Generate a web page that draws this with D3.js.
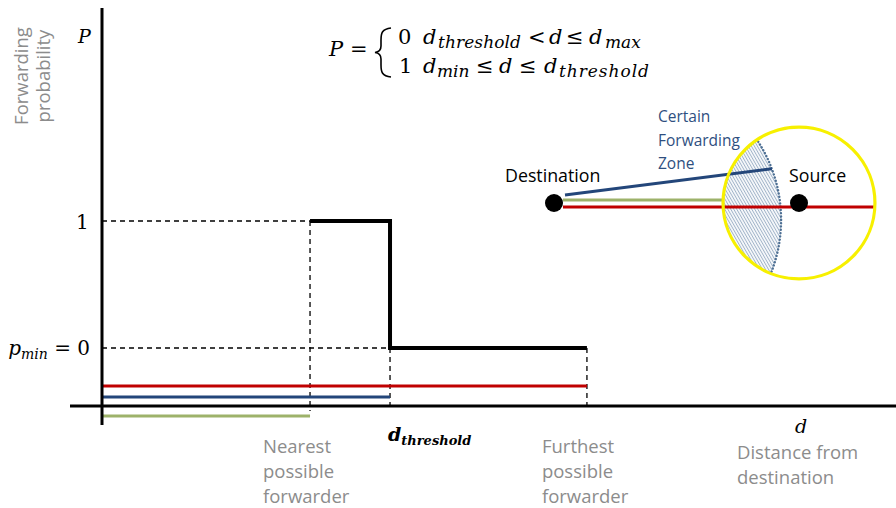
<!DOCTYPE html>
<html>
<head>
<meta charset="utf-8">
<script src="https://cdn.jsdelivr.net/npm/d3@7/dist/d3.min.js"></script>
<style>
  html, body { margin: 0; padding: 0; background: #fff; }
  svg { display: block; }
</style>
</head>
<body>
<svg id="chart" width="896" height="508"></svg>
<script>
// ---------------- data ----------------
// key distances (arbitrary distance units, measured from the destination)
const distanceNames  = ["dMin", "dThreshold", "dMax"];
const distanceValues = [104.8, 145.1, 244.3];
// forwarding probability step function: P(d)
const stepDistances  = [104.8, 145.1, 244.3];
const stepProbability = [1, 0, 0];
// y tick values of the probability axis
const yTickValues = [1, 0];
// range bars below the axis (from the destination to a key distance)
const rangeBarNames = ["furthest", "threshold", "nearest"];
const rangeBarEnds  = [244.3, 145.1, 104.8];
// x-axis annotations
const nearestLabel  = ["Nearest", "possible", "forwarder"];
const furthestLabel = ["Furthest", "possible", "forwarder"];
const axisLabelX    = ["Distance from", "destination"];
const axisLabelY    = ["Forwarding", "probability"];
// inset diagram (units: destination = 0, source = 1)
const nodeNames  = ["Destination", "Source"];
const nodeX      = [0, 1];
const sourceRange = 0.31;
const zoneCenter  = [0.335, 0.069];
const zoneRadius  = 0.592;
const zoneLabel   = ["Certain", "Forwarding", "Zone"];

// ---------------- setup ----------------
const svg = d3.select("#chart");
const W = 896, H = 508;

const x = d3.scaleLinear().domain([0, 400]).range([102, 896]);
const y = d3.scaleLinear().domain([-0.4567, 2.677]).range([406, 8]);
const axisY = y(-0.4567);
const axisX = x(0);

const sans = "'Open Sans', 'DejaVu Sans', sans-serif";
const serif = "'DejaVu Serif', serif";
const gray = "#8c8c8c";
const red = "#c00000", blue = "#23467a", green = "#9db26a";

const defs = svg.append("defs");
const pat = defs.append("pattern")
  .attr("id", "hatch").attr("patternUnits", "userSpaceOnUse")
  .attr("width", 2.6).attr("height", 3)
  .attr("patternTransform", "rotate(-30)");
pat.append("rect").attr("width", 2.6).attr("height", 3).attr("fill", "#f7f9fb");
pat.append("line").attr("x1", 0.5).attr("y1", 0).attr("x2", 0.5).attr("y2", 3)
  .attr("stroke", "#8aa2bc").attr("stroke-width", 0.8);

// ---------------- dashed guides ----------------
const dMin = distanceValues[0], dThr = distanceValues[1], dMax = distanceValues[2];
const g = svg.append("g");
const dash = "5,4";
g.append("line").attr("x1", axisX).attr("x2", x(dMin)).attr("y1", y(1)).attr("y2", y(1))
  .attr("stroke", "#000").attr("stroke-width", 1.3).attr("stroke-dasharray", dash);
g.append("line").attr("x1", axisX).attr("x2", x(dThr)).attr("y1", y(0)).attr("y2", y(0))
  .attr("stroke", "#000").attr("stroke-width", 1.3).attr("stroke-dasharray", dash);
g.selectAll(".vguide").data([[dMin, 1], [dThr, 0], [dMax, 0]]).join("line")
  .attr("x1", d => x(d[0])).attr("x2", d => x(d[0]))
  .attr("y1", d => y(d[1])).attr("y2", axisY + 5)
  .attr("stroke", "#000").attr("stroke-width", 1.3).attr("stroke-dasharray", dash);

// ---------------- range bars ----------------
const laneOffset = { furthest: -20, threshold: -9, nearest: 10 };
const laneColor  = { furthest: red, threshold: blue, nearest: green };
g.selectAll(".bar").data(rangeBarNames.map((n, i) => ({ n, end: rangeBarEnds[i] }))).join("line")
  .attr("x1", x(0)).attr("x2", d => x(d.end))
  .attr("y1", d => axisY + laneOffset[d.n]).attr("y2", d => axisY + laneOffset[d.n])
  .attr("stroke", d => laneColor[d.n]).attr("stroke-width", 3);

// ---------------- axes ----------------
g.append("line").attr("x1", 70).attr("x2", W).attr("y1", axisY).attr("y2", axisY)
  .attr("stroke", "#000").attr("stroke-width", 3);
g.append("line").attr("x1", axisX).attr("x2", axisX).attr("y1", y.range()[1]).attr("y2", axisY + 19)
  .attr("stroke", "#000").attr("stroke-width", 3);

// ---------------- step function ----------------
const stepData = stepDistances.map((d, i) => [d, stepProbability[i]]);
g.append("path").datum(stepData)
  .attr("d", d3.line().x(d => x(d[0])).y(d => y(d[1])).curve(d3.curveStepAfter))
  .attr("fill", "none").attr("stroke", "#000").attr("stroke-width", 4)
  .attr("stroke-linejoin", "miter");

// ---------------- y labels ----------------
svg.append("text").attr("x", axisX - 24).attr("y", y(2.46) + 7)
  .attr("font-family", serif).attr("font-style", "italic").attr("font-size", 19)
  .text("P");
svg.append("text").attr("x", axisX - 26).attr("y", y(yTickValues[0]) + 8)
  .attr("font-family", serif).attr("font-size", 20).text("1");
const pm = svg.append("text").attr("x", axisX - 12).attr("y", y(yTickValues[1]) + 7)
  .attr("text-anchor", "end").attr("font-family", serif).attr("font-size", 20);
pm.append("tspan").attr("font-style", "italic").text("p");
pm.append("tspan").attr("font-style", "italic").attr("font-size", 14).attr("dy", 4).text("min");
pm.append("tspan").attr("dy", -4).text(" = 0");

svg.append("g").selectAll("text").data(axisLabelY).join("text")
  .attr("transform", (d, i) => `translate(${28 + i * 22},76) rotate(-90)`)
  .attr("text-anchor", "middle").attr("font-family", sans).attr("font-size", 18.5)
  .attr("fill", gray).text(d => d);

// ---------------- x labels ----------------
const lab = svg.append("g").attr("font-family", sans).attr("font-size", 18.5).attr("fill", gray);
lab.selectAll(".n").data(nearestLabel).join("text")
  .attr("x", x(dMin) - 47).attr("y", (d, i) => 453 + i * 25).text(d => d);
lab.selectAll(".f").data(furthestLabel).join("text")
  .attr("x", x(dMax) - 45).attr("y", (d, i) => 453 + i * 25).text(d => d);
lab.selectAll(".dx").data(axisLabelX).join("text")
  .attr("x", 737).attr("y", (d, i) => 459 + i * 25).text(d => d);

const dt = svg.append("text").attr("x", x(dThr) - 2).attr("y", 441)
  .attr("font-family", serif).attr("font-style", "italic").attr("font-weight", "bold").attr("font-size", 19);
dt.append("tspan").text("d");
dt.append("tspan").attr("font-size", 13).attr("dy", 4).text("threshold");
svg.append("text").attr("x", 795).attr("y", 433)
  .attr("font-family", serif).attr("font-style", "italic").attr("font-size", 19).text("d");

// ---------------- formula ----------------
const fm = svg.append("g").attr("font-family", serif).attr("font-size", 21);
fm.append("text").attr("x", 329).attr("y", 56).attr("font-style", "italic").text("P");
fm.append("text").attr("x", 350).attr("y", 56).text("=");
fm.append("path")
  .attr("d", "M391,28 C382,29 381,33 381,40 L381,46 C381,50 379,52 375,52.5 C379,53 381,55 381,59 L381,65 C381,72 382,76 391,77")
  .attr("fill", "none").attr("stroke", "#000").attr("stroke-width", 1.6);
// [text, x, kind, width]  kind: i = italic, s = italic subscript
const line1 = [["0", 398], ["d", 423, "i"], ["threshold", 438, "s", 83], ["<", 528], ["d", 549, "i"], ["≤", 566], ["d", 589, "i"], ["max", 605, "s"]];
const line2 = [["1", 399], ["d", 423, "i"], ["min", 437, "s"], ["≤", 476], ["d", 499, "i"], ["≤", 519], ["d", 544, "i"], ["threshold", 559, "s", 90]];
function drawLine(yb, parts) {
  parts.forEach(p => {
    const t = fm.append("text").attr("x", p[1]).attr("y", p[2] === "s" ? yb + 4 : yb).text(p[0]);
    if (p[2]) t.attr("font-style", "italic");
    if (p[2] === "s") {
      t.attr("font-size", 17);
      if (p[3]) t.attr("textLength", p[3]).attr("lengthAdjust", "spacing");
    }
  });
}
drawLine(44, line1);
drawLine(73, line2);

// ---------------- inset diagram ----------------
const sx = d3.scaleLinear().domain([0, 1]).range([554, 799]);
const sy = d3.scaleLinear().domain([0, 1]).range([203, 448]);
const k = sx(1) - sx(0);
const src = { x: sx(nodeX[1]), y: sy(0) };
const dst = { x: sx(nodeX[0]), y: sy(0) };
const rSrc = sourceRange * k;
const zc = { x: sx(zoneCenter[0]), y: sy(zoneCenter[1]), r: zoneRadius * k };

defs.append("clipPath").attr("id", "srcClip")
  .append("circle").attr("cx", src.x).attr("cy", src.y).attr("r", rSrc);

const dg = svg.append("g");
const zone = dg.append("g").attr("clip-path", "url(#srcClip)");
zone.append("circle").attr("cx", zc.x).attr("cy", zc.y).attr("r", zc.r).attr("fill", "url(#hatch)");
// lines
dg.append("line").attr("x1", dst.x + 9).attr("x2", src.x + rSrc).attr("y1", dst.y + 4).attr("y2", dst.y + 4)
  .attr("stroke", red).attr("stroke-width", 3);
dg.append("line").attr("x1", dst.x + 9).attr("x2", src.x - rSrc).attr("y1", dst.y - 3).attr("y2", dst.y - 3)
  .attr("stroke", green).attr("stroke-width", 3);
// blue line to the edge of the certain forwarding zone
const bEnd = { x: zc.x + zc.r * Math.cos(-0.36), y: zc.y + zc.r * Math.sin(-0.36) };
dg.append("line").attr("x1", dst.x + 11).attr("y1", dst.y - 8).attr("x2", bEnd.x).attr("y2", bEnd.y)
  .attr("stroke", blue).attr("stroke-width", 3);
zone.append("circle").attr("cx", zc.x).attr("cy", zc.y).attr("r", zc.r)
  .attr("fill", "none").attr("stroke", "#4d6f93").attr("stroke-width", 2.4)
  .attr("stroke-dasharray", "0.1,3.2").attr("stroke-linecap", "round");
dg.append("circle").attr("cx", src.x).attr("cy", src.y).attr("r", rSrc)
  .attr("fill", "none").attr("stroke", "#f7f000").attr("stroke-width", 3.2);
dg.selectAll(".node").data(nodeX).join("circle")
  .attr("cx", d => sx(d)).attr("cy", sy(0)).attr("r", 9).attr("fill", "#000");
dg.append("text").attr("x", dst.x - 49).attr("y", 182).attr("font-family", sans).attr("font-size", 17.8)
  .text(nodeNames[0]);
dg.append("text").attr("x", src.x - 10).attr("y", 182).attr("font-family", sans).attr("font-size", 17.8)
  .text(nodeNames[1]);
dg.selectAll(".zl").data(zoneLabel).join("text")
  .attr("x", 658).attr("y", (d, i) => 122 + i * 23.5)
  .attr("font-family", sans).attr("font-size", 15.5).attr("fill", "#2f4f7f").text(d => d);
</script>
</body>
</html>
